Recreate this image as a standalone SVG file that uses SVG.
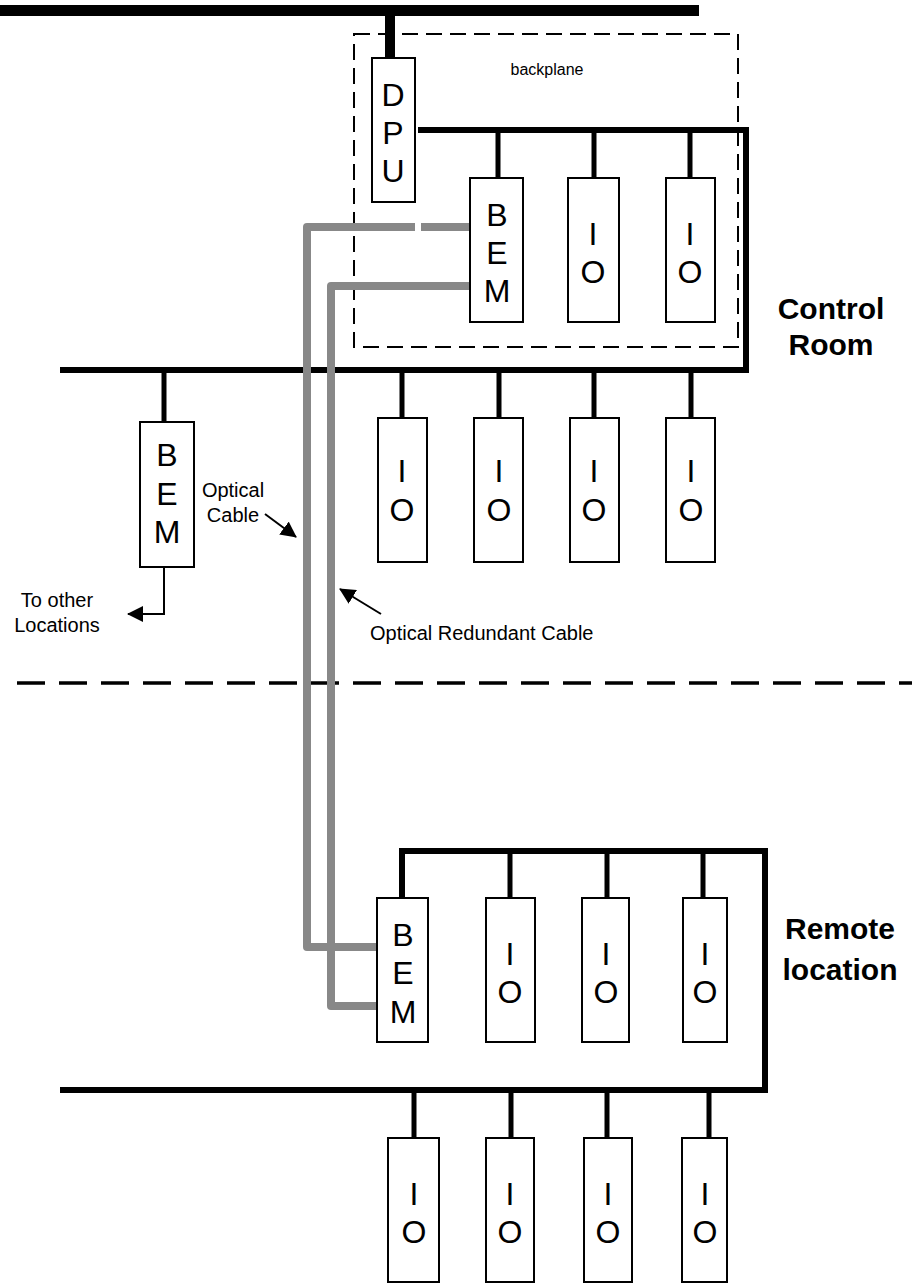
<svg xmlns="http://www.w3.org/2000/svg" width="912" height="1285" viewBox="0 0 912 1285">
<style>
.box{fill:#fff;stroke:#000;stroke-width:2}
.lbl{font-family:"Liberation Sans",Arial,sans-serif;font-size:32px;text-anchor:middle;fill:#000}
.bus{fill:none;stroke:#000;stroke-width:6}
.drop{fill:none;stroke:#000;stroke-width:5}
.cable{fill:none;stroke:#888;stroke-width:8;stroke-linejoin:round}
.note{font-family:"Liberation Sans",Arial,sans-serif;font-size:20px;fill:#000}
.big{font-family:"Liberation Sans",Arial,sans-serif;font-size:30px;font-weight:bold;text-anchor:middle;fill:#000}
.thin{fill:none;stroke:#000;stroke-width:2}
</style>
<defs>
<marker id="ah" viewBox="0 0 16 16" refX="15" refY="8" markerWidth="16" markerHeight="16" markerUnits="userSpaceOnUse" orient="auto">
<path d="M0,0 L16,8 L0,16 z" fill="#000"/>
</marker>
</defs>
<rect width="912" height="1285" fill="#fff"/>

<g id="backplane">
<rect x="354" y="34" width="384" height="313" fill="none" stroke="#000" stroke-width="2" stroke-dasharray="16 8"/>
<text x="547" y="75" class="note" style="font-size:16px" text-anchor="middle">backplane</text>
</g>
<g id="separator">
<line x1="17" y1="683" x2="912" y2="683" stroke="#000" stroke-width="3.5" stroke-dasharray="28 14"/>
</g>

<g id="connectors">
<line x1="0" y1="10.5" x2="699" y2="10.5" stroke="#000" stroke-width="11"/>
<line x1="390" y1="10" x2="390" y2="58" stroke="#000" stroke-width="10"/>
<path class="bus" d="M418,130 H746 V370 H60"/>
<path class="drop" d="M498,130 V178 M594,130 V178 M690,130 V178"/>
<path class="drop" d="M164,370 V422 M402,370 V418 M499,370 V418 M594,370 V418 M691,370 V418"/>
<path class="bus" d="M402,898 V851 H765 V1090 H60"/>
<path class="drop" d="M510,851 V898 M607,851 V898 M703,851 V898"/>
<path class="drop" d="M414,1090 V1138 M511,1090 V1138 M607,1090 V1138 M709,1090 V1138"/>
<path class="cable" d="M470,227 H421 M415,227 H307 V947 H377"/>
<path class="cable" d="M470,286 H331 V1006 H377"/>
<path class="thin" d="M164,567 V614 H128" marker-end="url(#ah)"/>
<line class="thin" x1="265" y1="514" x2="296" y2="537" marker-end="url(#ah)"/>
<line class="thin" x1="381" y1="614" x2="340" y2="589" marker-end="url(#ah)"/>
</g>

<g id="dpu"><rect class="box" x="372" y="58" width="43" height="144"/>
<text class="lbl" x="393" y="106">D</text><text class="lbl" x="393" y="144">P</text><text class="lbl" x="393" y="182">U</text></g>

<g id="bem-cr"><rect class="box" x="470" y="178" width="53" height="144"/>
<text class="lbl" x="497" y="226">B</text><text class="lbl" x="497" y="264">E</text><text class="lbl" x="497" y="302">M</text></g>
<g id="io-bp1"><rect class="box" x="568" y="178" width="51" height="144"/>
<text class="lbl" x="593" y="245">I</text><text class="lbl" x="593" y="283">O</text></g>
<g id="io-bp2"><rect class="box" x="666" y="178" width="49" height="144"/>
<text class="lbl" x="690" y="245">I</text><text class="lbl" x="690" y="283">O</text></g>

<g id="bem-left"><rect class="box" x="140" y="422" width="54" height="145"/>
<text class="lbl" x="167" y="466">B</text><text class="lbl" x="167" y="505">E</text><text class="lbl" x="167" y="543">M</text></g>

<g id="io-cr1"><rect class="box" x="378" y="418" width="49" height="144"/>
<text class="lbl" x="402" y="482">I</text><text class="lbl" x="402" y="521">O</text></g>
<g id="io-cr2"><rect class="box" x="474" y="418" width="49" height="144"/>
<text class="lbl" x="499" y="482">I</text><text class="lbl" x="499" y="521">O</text></g>
<g id="io-cr3"><rect class="box" x="570" y="418" width="49" height="144"/>
<text class="lbl" x="594" y="482">I</text><text class="lbl" x="594" y="521">O</text></g>
<g id="io-cr4"><rect class="box" x="666" y="418" width="49" height="144"/>
<text class="lbl" x="691" y="482">I</text><text class="lbl" x="691" y="521">O</text></g>

<g id="bem-remote"><rect class="box" x="377" y="898" width="51" height="144"/>
<text class="lbl" x="403" y="946">B</text><text class="lbl" x="403" y="984">E</text><text class="lbl" x="403" y="1023">M</text></g>
<g id="io-r1"><rect class="box" x="486" y="898" width="49" height="144"/>
<text class="lbl" x="510" y="965">I</text><text class="lbl" x="510" y="1003">O</text></g>
<g id="io-r2"><rect class="box" x="582" y="898" width="47" height="144"/>
<text class="lbl" x="606" y="965">I</text><text class="lbl" x="606" y="1003">O</text></g>
<g id="io-r3"><rect class="box" x="683" y="898" width="44" height="144"/>
<text class="lbl" x="705" y="965">I</text><text class="lbl" x="705" y="1003">O</text></g>

<g id="io-b1"><rect class="box" x="388" y="1138" width="51" height="144"/>
<text class="lbl" x="414" y="1205">I</text><text class="lbl" x="414" y="1243">O</text></g>
<g id="io-b2"><rect class="box" x="486" y="1138" width="48" height="144"/>
<text class="lbl" x="510" y="1205">I</text><text class="lbl" x="510" y="1243">O</text></g>
<g id="io-b3"><rect class="box" x="584" y="1138" width="48" height="144"/>
<text class="lbl" x="608" y="1205">I</text><text class="lbl" x="608" y="1243">O</text></g>
<g id="io-b4"><rect class="box" x="682" y="1138" width="45" height="144"/>
<text class="lbl" x="705" y="1205">I</text><text class="lbl" x="705" y="1243">O</text></g>

<g id="labels">
<text class="note" x="233" y="497" text-anchor="middle">Optical</text>
<text class="note" x="233" y="522" text-anchor="middle">Cable</text>
<text class="note" x="57" y="607" text-anchor="middle">To other</text>
<text class="note" x="57" y="632" text-anchor="middle">Locations</text>
<text class="note" x="370" y="640">Optical Redundant Cable</text>
<text class="big" x="831" y="319">Control</text>
<text class="big" x="831" y="355">Room</text>
<text class="big" x="840" y="939">Remote</text>
<text class="big" x="840" y="980">location</text>
</g>
</svg>
